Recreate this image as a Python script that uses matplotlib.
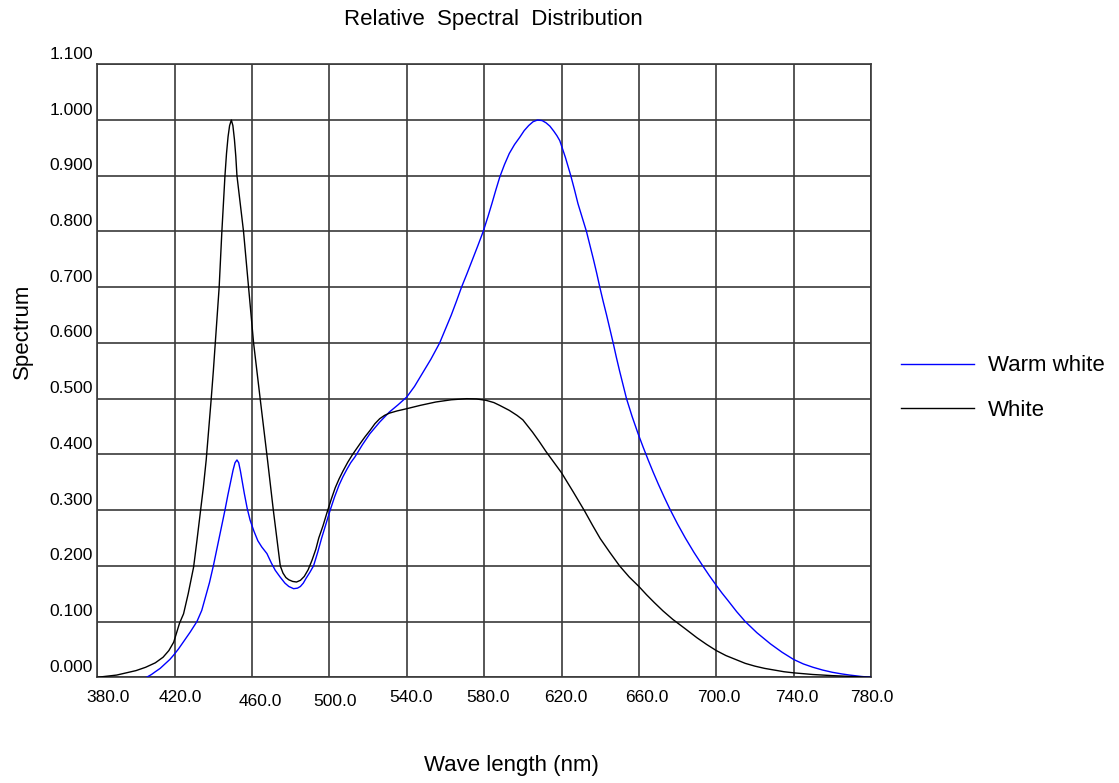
#!/usr/bin/env python3
"""Relative spectral distribution of warm white vs white LEDs."""

import matplotlib
matplotlib.use("Agg")
import matplotlib.pyplot as plt
from matplotlib.transforms import ScaledTranslation


# White (black curve): wavelength (nm) and relative value
white_nm = [380, 385, 390, 395, 400, 405, 410, 414, 417, 419.5, 421, 422.5, 424.6,
            427, 429.8, 431.5, 433.2, 434.8, 436.3, 437.6, 438.9, 440, 441, 442,
            443, 443.7, 444.4, 445.2, 446, 446.8, 447.6, 448.4, 449.3, 450.1,
            450.9, 451.6, 452.2, 453.9, 455.6, 456.9, 458.2, 459.5, 460.8, 462.5,
            464.2, 466.1, 468, 469.5, 471, 472.8, 474.6, 476, 477.5, 479, 481, 483,
            485, 487, 489, 491, 493, 494.5, 496.7, 498.7, 501, 503, 505, 507,
            509.5, 512, 514, 516, 518.5, 521, 523.5, 526, 528.5, 531, 535, 540,
            547, 555, 563, 571, 576, 581, 585, 588, 593, 597, 600, 605, 608.5,
            612, 616, 620, 626, 632, 636, 640, 645, 650, 655, 660, 664, 668,
            672.5, 677.5, 684, 690, 695, 700, 705, 710, 715, 720, 725, 730, 735,
            740, 750, 760, 770, 780]
white_val = [0.0, 0.002, 0.004, 0.008, 0.012, 0.018, 0.026, 0.036, 0.048, 0.063,
             0.08, 0.097, 0.114, 0.15, 0.198, 0.245, 0.294, 0.34, 0.39, 0.445, 0.5,
             0.55, 0.6, 0.65, 0.7, 0.75, 0.8, 0.85, 0.9, 0.94, 0.97, 0.99, 1.0,
             0.99, 0.965, 0.935, 0.9, 0.85, 0.8, 0.75, 0.7, 0.65, 0.6, 0.55, 0.5,
             0.445, 0.39, 0.345, 0.3, 0.25, 0.2, 0.187, 0.179, 0.175, 0.172, 0.171,
             0.174, 0.181, 0.193, 0.21, 0.23, 0.25, 0.272, 0.295, 0.32, 0.34,
             0.356, 0.37, 0.386, 0.40, 0.41, 0.42, 0.432, 0.443, 0.455, 0.464,
             0.47, 0.474, 0.478, 0.482, 0.488, 0.494, 0.498, 0.50, 0.4995, 0.497,
             0.493, 0.488, 0.479, 0.47, 0.462, 0.44, 0.423, 0.405, 0.386, 0.367,
             0.333, 0.298, 0.273, 0.249, 0.224, 0.2, 0.18, 0.163, 0.148, 0.134,
             0.119, 0.104, 0.087, 0.071, 0.059, 0.048, 0.039, 0.032, 0.025, 0.02,
             0.016, 0.013, 0.01, 0.008, 0.005, 0.003, 0.0015, 0.0]

# Warm white (blue curve)
warm_nm = [405.5, 408, 410, 412.5, 415, 417.5, 419.5, 422, 425, 428, 431.5, 434,
           436, 438, 440, 441.5, 443, 444.5, 446, 447.5, 449, 450.2, 451.2, 452.2,
           453.1, 454, 455, 456, 457.5, 459, 461, 463, 465, 467.7, 470, 472,
           474.5, 477, 479, 481.5, 483.5, 485, 486.5, 488, 490, 491.8, 494, 496,
           498.2, 500.4, 502.7, 505, 507, 509, 511, 513.3, 517, 520.9, 526, 531,
           535.5, 540, 544, 548, 552.5, 557, 560, 563, 565.7, 568.3, 571.2, 574,
           576.8, 579.5, 582, 584, 586, 588.1, 590.5, 593, 595.7, 598.4, 600.7,
           603, 605.3, 607.6, 610, 612, 614, 616, 617.6, 619.1, 622, 624.8,
           626.7, 628.5, 630.7, 632.9, 634.7, 636.5, 638.2, 639.8, 641.5, 643.3,
           645, 646.7, 648.3, 650, 651.8, 653.6, 656.5, 659.6, 662.2, 664.8,
           667.4, 670, 673, 676, 680, 684, 688.5, 693, 696.5, 700, 703, 706,
           710.5, 715, 721, 728, 734, 740, 745, 750, 755, 760, 765, 769, 775, 780]
warm_val = [0.0, 0.005, 0.01, 0.016, 0.024, 0.032, 0.04, 0.051, 0.066, 0.081, 0.1,
            0.12, 0.145, 0.17, 0.2, 0.225, 0.25, 0.275, 0.3, 0.327, 0.352, 0.372,
            0.385, 0.39, 0.385, 0.37, 0.35, 0.33, 0.303, 0.282, 0.262, 0.245,
            0.234, 0.222, 0.205, 0.192, 0.18, 0.169, 0.163, 0.159, 0.16, 0.163,
            0.169, 0.178, 0.189, 0.2, 0.225, 0.25, 0.275, 0.3, 0.324, 0.345, 0.36,
            0.373, 0.385, 0.396, 0.417, 0.437, 0.458, 0.476, 0.489, 0.503, 0.522,
            0.545, 0.571, 0.6, 0.625, 0.65, 0.675, 0.70, 0.725, 0.75, 0.775, 0.80,
            0.827, 0.85, 0.874, 0.898, 0.92, 0.94, 0.956, 0.969, 0.981, 0.99,
            0.997, 1.0, 0.999, 0.995, 0.989, 0.98, 0.972, 0.963, 0.933, 0.9, 0.875,
            0.85, 0.825, 0.8, 0.775, 0.75, 0.725, 0.7, 0.675, 0.65, 0.625, 0.6,
            0.575, 0.55, 0.525, 0.5, 0.468, 0.437, 0.413, 0.39, 0.368, 0.347,
            0.324, 0.302, 0.275, 0.25, 0.224, 0.2, 0.182, 0.165, 0.151, 0.138,
            0.118, 0.1, 0.08, 0.06, 0.045, 0.032, 0.024, 0.018, 0.013, 0.009,
            0.006, 0.004, 0.0015, 0.0]

x_ticks = [380, 420, 460, 500, 540, 580, 620, 660, 700, 740, 780]
y_ticks = [0.0, 0.1, 0.2, 0.3, 0.4, 0.5, 0.6, 0.7, 0.8, 0.9, 1.0, 1.1]

# pixel nudges of the x tick labels as they sit in the original chart
x_label_dx = [11, 6, 8, 6, 4, 4, 4, 8, 3, 3.5, 0.5]
x_label_dy = [0, 0, -4, -4, 0, 0, 0, 0, 0, 0, 0]


def main() -> None:
    plt.rcParams["font.family"] = ["Liberation Sans", "DejaVu Sans"]

    W, H = 1119, 783
    fig = plt.figure(figsize=(W / 100, H / 100), dpi=100)
    ax = fig.add_axes([97.3 / W, 1 - 677.3 / H, (871 - 97.3) / W, (677.3 - 64.3) / H])

    ax.plot(warm_nm, warm_val, color="#0000ff", lw=1.0, label="Warm white", zorder=3)
    ax.plot(white_nm, white_val, color="black", lw=1.0, label="White", zorder=3)

    ax.set_xlim(380, 780)
    ax.set_ylim(0, 1.1)
    ax.set_xticks(x_ticks)
    ax.set_xticklabels([f"{v:.1f}" for v in x_ticks], fontsize=12.5)
    ax.set_yticks(y_ticks)
    ax.set_yticklabels([f"{v:.3f}" for v in y_ticks], fontsize=12.5)
    ax.tick_params(length=0)
    ax.tick_params(axis="x", pad=9)
    ax.tick_params(axis="y", pad=3)
    ax.grid(True, color="#3a3a3a", lw=1.2)
    for spine in ax.spines.values():
        spine.set_color("#3a3a3a")
        spine.set_linewidth(1.2)

    # tick labels sit just above their grid line on y, slightly right on x
    for lab in ax.get_yticklabels():
        lab.set_verticalalignment("bottom")
        lab.set_transform(lab.get_transform() + ScaledTranslation(0, 2.5 / 100, fig.dpi_scale_trans))
    for lab, dx, dy in zip(ax.get_xticklabels(), x_label_dx, x_label_dy):
        lab.set_transform(lab.get_transform() + ScaledTranslation(dx / 100, dy / 100, fig.dpi_scale_trans))

    fig.text(493 / W, 1 - 20 / H, "Relative  Spectral  Distribution", fontsize=16,
             ha="center", va="center")
    fig.text(511 / W, 1 - 766 / H, "Wave length (nm)", fontsize=16, ha="center", va="center")
    fig.text(22 / W, 1 - 331 / H, "Spectrum", fontsize=16, rotation=90, ha="center", va="center")

    fig.legend(loc="center left", bbox_to_anchor=(901 / W, 1 - 388 / H), frameon=False,
               fontsize=16, handlelength=3.3, handletextpad=0.6, labelspacing=1.05,
               borderaxespad=0, borderpad=0)

    fig.savefig("out.png", dpi=100)


if __name__ == "__main__":
    main()
